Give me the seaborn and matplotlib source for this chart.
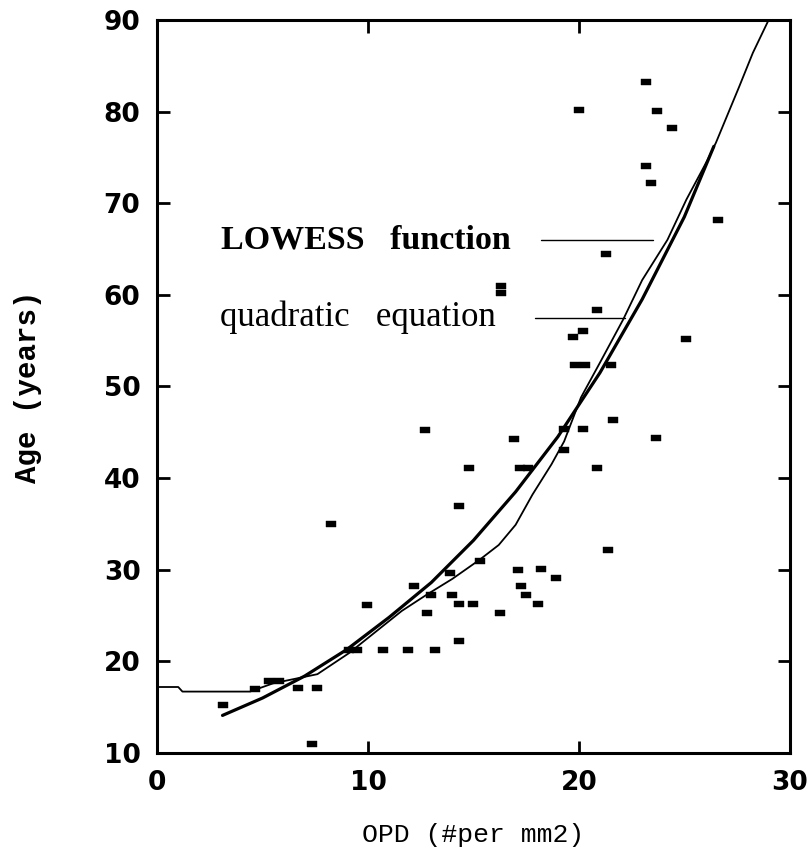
import numpy as np
import pandas as pd
import matplotlib
matplotlib.use("Agg")
import matplotlib.pyplot as plt
import seaborn as sns

# ---- data ----
opd = [3.1, 4.65, 5.3, 5.8, 6.7, 7.6, 7.35, 8.25, 9.1, 9.5, 9.95, 10.7, 11.9, 13.2,
       12.2, 12.8, 13.0, 12.7, 13.9, 14.0, 14.3, 15.0, 14.3, 14.3, 14.8, 15.3, 16.25,
       16.3, 16.3, 16.9, 17.2, 17.6, 17.1, 17.25, 17.5, 18.05, 18.2, 18.9, 19.3, 19.3,
       19.7, 19.8, 20.3, 20.2, 20.0, 20.2, 20.85, 20.85, 21.3, 21.5, 21.6, 21.4,
       23.2, 23.7, 24.4, 23.2, 23.4, 23.65, 25.1, 26.6]
age = [15.2, 17.0, 17.9, 17.9, 17.1, 17.1, 11.0, 35.0, 21.2, 21.2, 26.2, 21.2, 21.2, 21.2,
       28.2, 25.3, 27.2, 45.3, 29.6, 27.2, 26.3, 26.3, 22.2, 37.0, 41.1, 30.9, 25.3,
       61.0, 60.2, 44.3, 41.1, 41.1, 30.0, 28.2, 27.2, 26.3, 30.1, 29.1, 43.1, 45.4,
       55.4, 52.3, 52.3, 56.1, 80.2, 45.4, 58.3, 41.1, 64.4, 52.3, 46.3, 32.2,
       83.2, 80.1, 78.2, 74.1, 72.2, 44.4, 55.2, 68.2]

lowess_x = [0, 1.0, 1.2, 4.4, 5.5, 7.6, 9.1, 11.6, 12.8, 14.0, 15.3, 16.2, 17.0, 17.8,
            18.7, 19.3, 20.1, 21.0, 22.1, 23.0, 24.2, 25.1, 26.1, 26.5, 27.6, 28.25, 29.0]
lowess_y = [17.2, 17.2, 16.7, 16.7, 17.6, 18.6, 20.9, 25.5, 27.3, 29.0, 31.1, 32.7, 34.9, 38.2,
            41.5, 44.0, 48.8, 52.6, 57.3, 61.6, 66.0, 70.4, 74.7, 76.6, 82.7, 86.4, 90.0]

quad_x = [3.1, 5, 7, 9, 11, 13, 15, 17, 19, 21, 23, 25, 26.4]
quad_y = [14.1, 16.0, 18.4, 21.3, 24.8, 28.6, 33.2, 38.5, 44.5, 51.5, 59.5, 68.5, 76.2]

x_ticks = [0, 10, 20, 30]
y_ticks = [10, 20, 30, 40, 50, 60, 70, 80, 90]

label_lowess = "LOWESS   function"
label_quad = "quadratic   equation"

# ---- figure ----
sns.set_theme(style="ticks")
plt.rcParams["font.family"] = ["DejaVu Sans"]
plt.rcParams["text.color"] = "black"
plt.rcParams["axes.labelcolor"] = "black"
plt.rcParams["xtick.color"] = "black"
plt.rcParams["ytick.color"] = "black"

fig = plt.figure(figsize=(8.1, 8.65), dpi=100)
ax = fig.add_axes([0.194, 0.1295, 0.781, 0.8475])

pts = pd.DataFrame({"OPD": opd, "Age": age})
rect = [(-1.5, -1.0), (1.5, -1.0), (1.5, 1.0), (-1.5, 1.0), (-1.5, -1.0)]
sns.scatterplot(data=pts, x="OPD", y="Age", marker=rect, s=55, color="black",
                edgecolor="black", linewidth=0.3, ax=ax, zorder=3)

lw_df = pd.DataFrame({"x": lowess_x, "y": lowess_y})
sns.lineplot(data=lw_df, x="x", y="y", sort=False, estimator=None, color="black",
             linewidth=1.3, ax=ax, zorder=2)
qd_df = pd.DataFrame({"x": quad_x, "y": quad_y})
sns.lineplot(data=qd_df, x="x", y="y", sort=False, estimator=None, color="black",
             linewidth=2.3, ax=ax, zorder=2)

ax.set_xlim(0, 30)
ax.set_ylim(10, 90)
ax.set_xticks(x_ticks)
ax.set_yticks(y_ticks)
ax.set_xticklabels([str(v) for v in x_ticks])
ax.set_yticklabels([str(v) for v in y_ticks])

for s in ax.spines.values():
    s.set_visible(True)
    s.set_color("black")
    s.set_linewidth(2.2)

ax.tick_params(axis="both", which="major", direction="in", length=9, width=2,
               color="black", labelcolor="black", top=True, right=True, pad=12,
               labelsize=19)
for lab in ax.get_xticklabels() + ax.get_yticklabels():
    lab.set_fontweight("heavy")
    lab.set_family(["DejaVu Sans"])

ax.set_xlabel("OPD (#per mm2)", fontsize=19, color="black",
              family=["Liberation Mono", "DejaVu Sans Mono"], labelpad=20)
ax.set_ylabel("Age (years)", fontsize=21, fontweight="bold", color="black",
              family=["Liberation Mono", "DejaVu Sans Mono"], labelpad=44)

# annotations with leader lines
ax.text(3.05, 66.0, label_lowess, fontsize=24.5, fontweight="bold", color="black",
        family=["Liberation Serif", "DejaVu Serif"], va="center", ha="left")
ax.plot([18.2, 23.5], [66.0, 66.0], color="black", linewidth=1.0)
ax.text(3.0, 57.5, label_quad, fontsize=25, color="black",
        family=["Liberation Serif", "DejaVu Serif"], va="center", ha="left")
ax.plot([17.9, 22.2], [57.5, 57.5], color="black", linewidth=1.0)

ax.grid(False)
ax.set_facecolor("white")
fig.patch.set_facecolor("white")

fig.savefig("out.png", dpi=100, facecolor="white")
